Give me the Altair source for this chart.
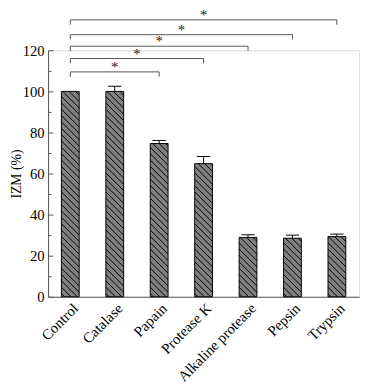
import altair as alt
import numpy as np
import pandas as pd

categories = ["Control", "Catalase", "Papain", "Protease K", "Alkaline protease", "Pepsin", "Trypsin"]
values = [100.0, 100.0, 74.6, 64.8, 28.9, 28.5, 29.3]
errors = [0.0, 2.5, 1.5, 3.5, 1.3, 1.5, 1.2]

# significance brackets: from Control (index 0) to target index, at level (in % units)
bracket_targets = [2, 3, 4, 5, 6]
bracket_levels = [109.5, 116.0, 122.0, 127.6, 134.8]
bracket_labels = ["*", "*", "*", "*", "*"]

W, H = 318, 252
YMAX = 120
HALF = 0.2          # half bar width (x units)
CAPHALF = 0.15      # half cap width
PX_X = W / 7.0      # pixels per x unit
PX_Y = H / YMAX     # pixels per y unit
DROP = 5 / PX_Y     # bracket end drop in y units

idx = list(range(len(categories)))
bars = pd.DataFrame({
    "i": idx, "cat": categories, "v": values, "e": errors,
    "x1": [i - HALF for i in idx], "x2": [i + HALF for i in idx],
    "top": [v + e for v, e in zip(values, errors)],
    "c1": [i - CAPHALF for i in idx], "c2": [i + CAPHALF for i in idx],
})

# hatch lines (decoration) clipped to each bar, descending to the right at 45deg in pixels
rows = []
spacing = 6.5
wpx = 2 * HALF * PX_X
for i, v in zip(idx, values):
    hpx = v * PX_Y
    c = spacing / 2
    while c < hpx + wpx:
        u1 = max(0.0, c - hpx)
        u2 = min(wpx, c)
        if u2 > u1:
            rows.append({
                "hx1": i - HALF + u1 / PX_X, "hy1": (c - u1) / PX_Y,
                "hx2": i - HALF + u2 / PX_X, "hy2": (c - u2) / PX_Y,
            })
        c += spacing
hatch = pd.DataFrame(rows)

bh = pd.DataFrame({
    "t": bracket_targets, "lvl": bracket_levels, "lab": bracket_labels,
    "x0": [0] * len(bracket_targets),
    "low": [l - DROP for l in bracket_levels],
    "mid": [t / 2 for t in bracket_targets],
})

xs = alt.Scale(domain=[-0.5, 6.5], nice=False, zero=False)
ys = alt.Scale(domain=[0, YMAX], nice=False)

names_js = "[" + ",".join('"%s"' % c for c in categories) + "]"
x_axis = alt.Axis(values=idx, labelExpr=names_js + "[datum.value]", labelAngle=-45,
                  labelAlign="right", labelBaseline="top", labelPadding=4,
                  ticks=False, grid=False, title=None, labelFont="Liberation Serif",
                  labelFontSize=15, labelColor="black", domainColor="#555", labelBound=False,
                  labelOverlap=False)
y_axis_left = alt.Axis(values=[0, 20, 40, 60, 80, 100, 120], ticks=False, grid=False,
                       title="IZM (%)", titleFont="Liberation Serif", titleFontSize=14,
                       titleFontWeight="normal", titleColor="black",
                       titleX=-32, titleY=H / 2, titleBaseline="middle", titleAngle=-90,
                       labelFont="Liberation Serif", labelFontSize=15, labelColor="black",
                       labelPadding=4, domainColor="#555")
y_axis_ticks = alt.Axis(orient="right", offset=-W, values=list(range(0, 121, 10)),
                        labels=False, domain=False, grid=False, title=None,
                        tickSize=alt.expr("datum.value % 20 === 0 ? 5 : 3"),
                        tickColor="#555")

bar_layer = alt.Chart(bars).mark_rect(fill="#808080", stroke="black", strokeWidth=1).encode(
    x=alt.X("x1:Q", scale=xs, axis=x_axis), x2="x2:Q",
    y=alt.Y("v:Q", scale=ys, axis=y_axis_left), y2=alt.datum(0),
)

hatch_layer = alt.Chart(hatch).mark_rule(color="black", strokeWidth=1).encode(
    x=alt.X("hx1:Q", scale=xs), x2="hx2:Q",
    y=alt.Y("hy1:Q", scale=ys, axis=y_axis_ticks), y2="hy2:Q",
)

err_data = bars[bars["e"] > 0]
err_stem = alt.Chart(err_data).mark_rule(color="black", strokeWidth=1).encode(
    x=alt.X("i:Q", scale=xs), y=alt.Y("v:Q", scale=ys, axis=None), y2="top:Q")
err_cap = alt.Chart(err_data).mark_rule(color="black", strokeWidth=1).encode(
    x=alt.X("c1:Q", scale=xs), x2="c2:Q", y=alt.Y("top:Q", scale=ys, axis=None))

br_h = alt.Chart(bh).mark_rule(color="#555", strokeWidth=1).encode(
    x=alt.X("x0:Q", scale=xs), x2="t:Q", y=alt.Y("lvl:Q", scale=ys, axis=None))
br_l = alt.Chart(bh).mark_rule(color="#555", strokeWidth=1).encode(
    x=alt.X("x0:Q", scale=xs), y=alt.Y("low:Q", scale=ys, axis=None), y2="lvl:Q")
br_r = alt.Chart(bh).mark_rule(color="#555", strokeWidth=1).encode(
    x=alt.X("t:Q", scale=xs), y=alt.Y("low:Q", scale=ys, axis=None), y2="lvl:Q")
br_t = alt.Chart(bh).mark_text(font="Liberation Serif", fontSize=15, color="#222",
                               baseline="alphabetic", dy=0).encode(
    x=alt.X("mid:Q", scale=xs), y=alt.Y("lvl:Q", scale=ys, axis=None), text="lab:N")

chart = alt.layer(bar_layer, hatch_layer, err_stem, err_cap, br_h, br_l, br_r, br_t).resolve_axis(
    y="independent"
).properties(
    width=W, height=H,
    autosize=alt.AutoSizeParams(type="none"),
    padding={"left": 41, "top": 39, "right": 4, "bottom": 88},
).configure_view(stroke=None).configure(background="white")

chart.save("out.html", embed_options={"renderer": "svg", "actions": False})
